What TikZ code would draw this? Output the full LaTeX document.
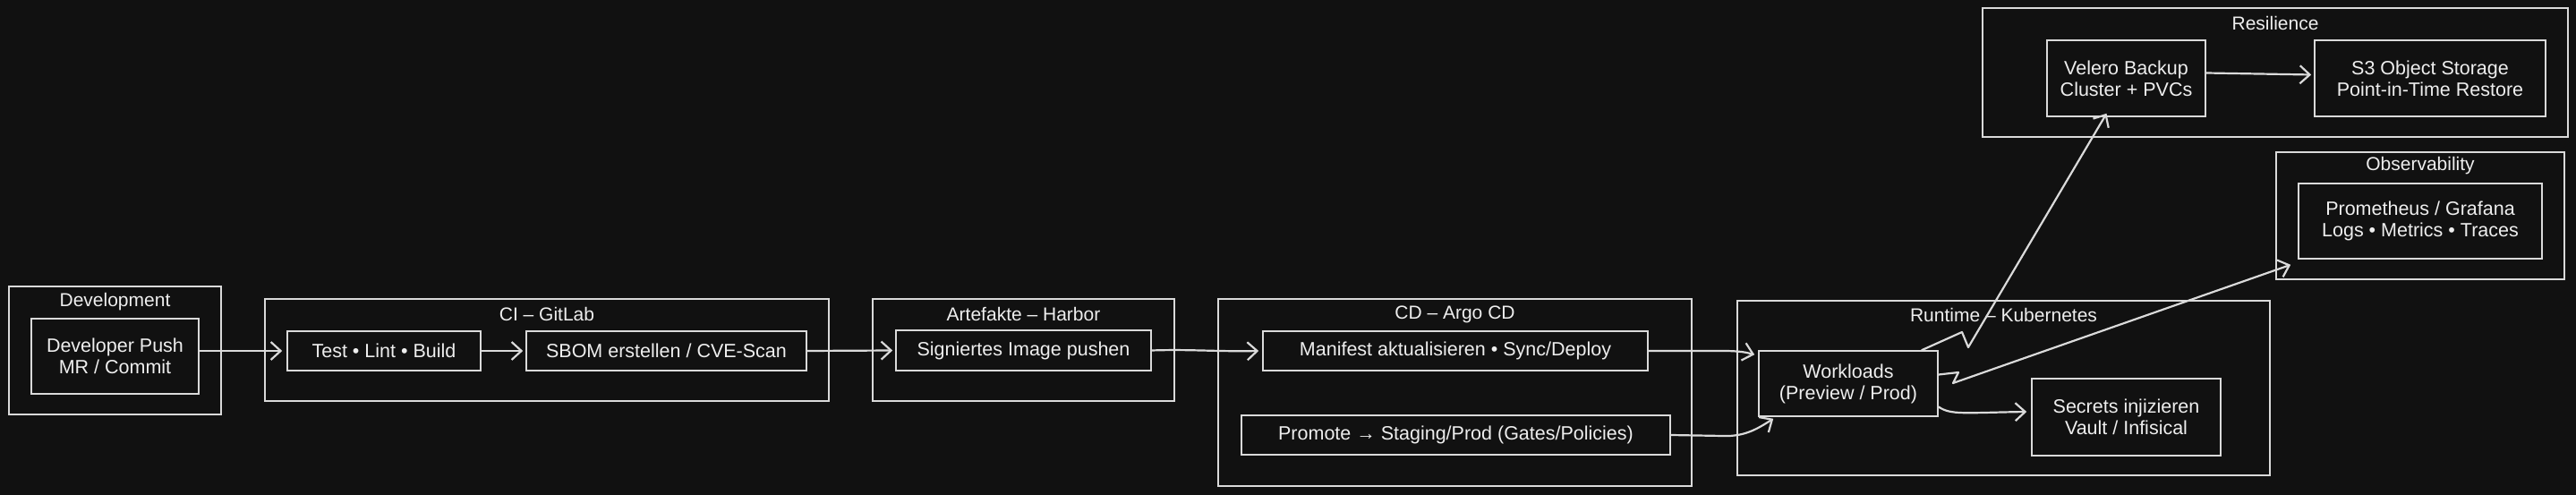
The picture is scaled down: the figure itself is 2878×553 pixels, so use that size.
\documentclass[tikz,border=0pt]{standalone}
\usepackage{fontspec}
\setmainfont{Liberation Sans}
\usetikzlibrary{arrows.meta}
\definecolor{bg}{HTML}{111111}
\definecolor{fg}{HTML}{DADADA}
\definecolor{tx}{HTML}{EEEEEE}
\tikzset{
  box/.style={draw=fg, line width=1.6pt, fill=bg, text=tx, align=center, inner sep=0pt,
    font=\fontsize{21.5}{24}\selectfont},
  cluster/.style={draw=fg, line width=1.6pt, fill=bg, inner sep=0pt},
  ctitle/.style={text=tx, font=\fontsize{21}{24}\selectfont, inner sep=0pt, anchor=center},
  edge/.style={draw=fg, line width=2.2pt, line join=round, line cap=round,
    -{Straight Barb[length=11pt,width=20pt,line width=2.2pt]}},
}
\begin{document}
\begin{tikzpicture}[x=1pt,y=-1pt]
\fill[bg] (0,0) rectangle (2878,553);
\useasboundingbox (0,0) rectangle (2878,553);

% clusters
\node[cluster, minimum width=237pt, minimum height=143pt] (devC) at (128.5,391.5) {};
\node[cluster, minimum width=630pt, minimum height=114pt] (ciC) at (611,391) {};
\node[cluster, minimum width=337pt, minimum height=114pt] (artC) at (1143.5,391) {};
\node[cluster, minimum width=529pt, minimum height=209pt] (cdC) at (1625.5,438.5) {};
\node[cluster, minimum width=595pt, minimum height=195pt] (rtC) at (2238.5,433.5) {};
\node[cluster, minimum width=654pt, minimum height=144pt] (resC) at (2542,81) {};
\node[cluster, minimum width=322pt, minimum height=142pt] (obsC) at (2704,241) {};

% cluster titles
\node[ctitle] (devT) at ([yshift=-18pt]devC.north) {Development};
\node[ctitle] (ciT) at ([yshift=-18pt]ciC.north) {CI – GitLab};
\node[ctitle] (artT) at ([yshift=-18pt]artC.north) {Artefakte – Harbor};
\node[ctitle] (cdT) at ([yshift=-18pt]cdC.north) {CD – Argo CD};
\node[ctitle] (rtT) at ([yshift=-17pt]rtC.north) {Runtime – Kubernetes};
\node[ctitle] (resT) at ([yshift=-18pt]resC.north) {Resilience};
\node[ctitle] (obsT) at ([yshift=-16pt]obsC.north) {Observability};

% nodes
\node[box, minimum width=187pt, minimum height=84pt] (dev) at (128.5,398) {Developer Push\\MR / Commit};
\node[box, minimum width=216pt, minimum height=44pt] (test) at (429,392) {Test • Lint • Build};
\node[box, minimum width=313pt, minimum height=44pt] (sbom) at (744.5,392) {SBOM erstellen / CVE-Scan};
\node[box, minimum width=285pt, minimum height=45pt] (sig) at (1143.5,391.5) {Signiertes Image pushen};
\node[box, minimum width=430pt, minimum height=44pt] (man) at (1626,392) {Manifest aktualisieren • Sync/Deploy};
\node[box, minimum width=479pt, minimum height=44pt] (prom) at (1626.5,486) {Promote → Staging/Prod (Gates/Policies)};
\node[box, minimum width=200pt, minimum height=73pt] (wl) at (2065,428.5) {Workloads\\(Preview / Prod)};
\node[box, minimum width=211pt, minimum height=86pt] (sec) at (2375.5,466) {Secrets injizieren\\Vault / Infisical};
\node[box, minimum width=177pt, minimum height=85pt] (vel) at (2375.5,87.5) {Velero Backup\\Cluster + PVCs};
\node[box, minimum width=258pt, minimum height=85pt] (s3) at (2715,87.5) {S3 Object Storage\\Point-in-Time Restore};
\node[box, minimum width=272pt, minimum height=84pt] (pro) at (2704,247) {Prometheus / Grafana\\Logs • Metrics • Traces};

% edges
\draw[edge] (dev.east |- test.west) -- ([xshift=-5pt]test.west);
\draw[edge] (test.east) -- ([xshift=-3pt]sbom.west);
\draw[edge] (sbom.east) -- ([xshift=-3pt]sig.west);
\draw[edge] (sig.east) .. controls (1330,390) and (1360,393) .. ([xshift=-4pt]man.west);
\draw[edge] (man.east) -- (1925,392) .. controls (1945,392) and (1952,394) .. ([xshift=-4pt,yshift=-5pt]wl.north west);
\draw[edge] (prom.east) -- (1925,487) .. controls (1950,488) and (1965,478) .. ([xshift=17pt,yshift=-2pt]wl.south west);
\draw[edge] ([xshift=82pt]wl.north) -- (2192,371) -- (2199,388) -- ([xshift=-22pt,yshift=4pt]vel.south);
\draw[edge] ([yshift=10pt]wl.east) -- (2188,416) -- (2182,428) -- ([xshift=-8pt,yshift=-6pt]pro.south west);
\draw[edge] ([yshift=-26pt]wl.east) .. controls (2180,464) and (2195,461) .. ([xshift=-5pt,yshift=6pt]sec.west);
\draw[edge] ([yshift=6pt]vel.east) -- ([xshift=-3pt,yshift=4pt]s3.west);
\end{tikzpicture}
\end{document}
